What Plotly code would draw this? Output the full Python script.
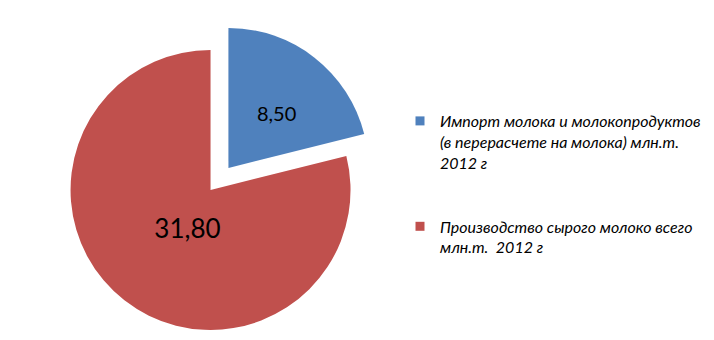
import plotly.graph_objects as go

labels = ["Импорт молока и молокопродуктов<br>(в перерасчете на молока) млн.т.<br>2012 г",
          "Производство сырого молоко всего<br>млн.т.  2012 г"]
values = [8.50, 31.80]
colors = ["#4F81BD", "#C0504D"]
TRANSPARENT = "rgba(0,0,0,0)"

# page body has an 8px margin: figure is drawn offset by (8, 8)
OFF = 8
W, H = 714 - 2 * OFF, 340 - 2 * OFF
R = 141
# base pie centre (red) and exploded centre (blue), in page pixels
cx0, cy0 = 212, 190
cx1, cy1 = 230, 168


def dom(cx, cy, r):
    cx -= OFF
    cy -= OFF
    return dict(x=[(cx - r) / W, (cx + r) / W],
                y=[(H - cy - r) / H, (H - cy + r) / H])


NB = "\u00a0"
fig = go.Figure()

# red slice (main pie)
fig.add_trace(go.Pie(
    labels=labels, values=values, sort=False, direction="clockwise", rotation=0,
    marker=dict(colors=[TRANSPARENT, colors[1]], line=dict(width=0)),
    texttemplate=["", NB * 6 + "%{value:.2f}<br>" + NB], textposition="inside",
    insidetextorientation="horizontal",
    textfont=dict(family="Lato", size=26, color="black"),
    domain=dom(cx0, cy0, R), showlegend=False, hoverinfo="skip",
))
# blue slice (exploded)
fig.add_trace(go.Pie(
    labels=labels, values=values, sort=False, direction="clockwise", rotation=0,
    marker=dict(colors=[colors[0], TRANSPARENT], line=dict(width=0)),
    texttemplate=[NB + "<br>%{value:.2f}" + NB * 2, ""], textposition="inside",
    insidetextorientation="horizontal",
    textfont=dict(family="Lato", size=20, color="black"),
    domain=dom(cx1, cy1, R), showlegend=False, hoverinfo="skip",
))

# legend entries
for i, (lab, col) in enumerate(zip(labels, colors)):
    fig.add_trace(go.Scatter(
        x=[None], y=[None], mode="markers", name=lab,
        marker=dict(symbol="square", size=9, color=col),
        legendgroup=f"g{i}", showlegend=True,
    ))

fig.update_layout(
    width=W, height=H,
    margin=dict(l=0, r=0, t=0, b=0),
    paper_bgcolor="white", plot_bgcolor="white",
    separators=", ",
    xaxis=dict(visible=False), yaxis=dict(visible=False),
    legend=dict(
        x=(403 - OFF) / W, y=1 - (104 - OFF) / H, xanchor="left", yanchor="top",
        font=dict(family="Lato", size=16, color="black", style="italic"),
        valign="top", tracegroupgap=40, bgcolor="rgba(0,0,0,0)",
    ),
)

fig.write_html("out.html")
